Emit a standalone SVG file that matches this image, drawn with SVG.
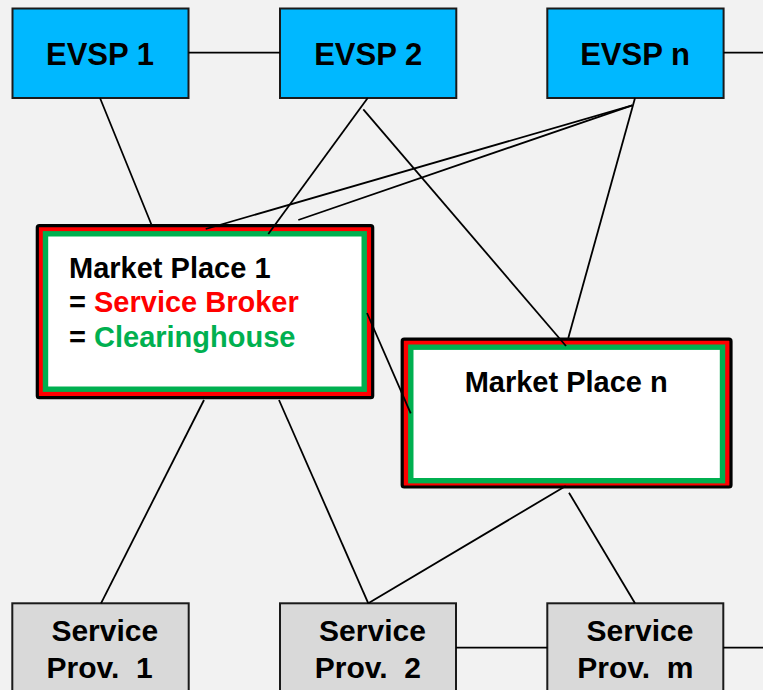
<svg xmlns="http://www.w3.org/2000/svg" width="763" height="690" viewBox="0 0 763 690">
<style>
.bg{fill:#f2f2f2}
.evsp{fill:#00b8ff;stroke:#1a1a1a;stroke-width:2}
.sp{fill:#d9d9d9;stroke:#1a1a1a;stroke-width:2}
.mpo{fill:#ff0000;stroke:#000;stroke-width:3.2}
.mpi{fill:#ffffff;stroke:#00b050;stroke-width:5.4}
text{font-family:"Liberation Sans",Arial,sans-serif;font-weight:bold;fill:#000}
.t31{font-size:31px;text-anchor:middle}
.t30{font-size:30px;text-anchor:middle}
.t29{font-size:29px}
.red{fill:#ff0000}
.grn{fill:#00b050}
.conn line{stroke:#000;stroke-width:1.8}
</style>
<rect class="bg" x="0" y="0" width="763" height="690"/>
<g id="evsp1"><rect class="evsp" x="12.5" y="8.5" width="176" height="89.5"/><text class="t31" x="100" y="65.3">EVSP 1</text></g>
<g id="evsp2"><rect class="evsp" x="280" y="8.5" width="176.3" height="89.5"/><text class="t31" x="368.2" y="65.3">EVSP 2</text></g>
<g id="evspn"><rect class="evsp" x="547.3" y="8.5" width="176.3" height="89.5"/><text class="t31" x="635" y="65.3">EVSP n</text></g>
<g id="mp1">
<rect class="mpo" x="37.3" y="225.6" width="335.4" height="172.1" rx="2"/>
<rect class="mpi" x="45.5" y="233.8" width="318.7" height="155.4"/>
<text class="t29" x="69" y="278">Market Place 1</text>
<text class="t29" x="69" y="311.7" xml:space="preserve">= <tspan class="red">Service Broker</tspan></text>
<text class="t29" x="69" y="346.7" xml:space="preserve">= <tspan class="grn">Clearinghouse</tspan></text>
</g>
<g id="mpn">
<rect class="mpo" x="402.2" y="339.2" width="328.8" height="147.8" rx="2"/>
<rect class="mpi" x="410.8" y="347.2" width="311.7" height="133.5"/>
<text class="t29" x="566.2" y="391.7" text-anchor="middle">Market Place n</text>
</g>
<g id="sp1"><rect class="sp" x="12.3" y="603.3" width="176.4" height="100"/><text class="t30" x="104.8" y="640.7">Service</text><text class="t30" x="99.7" y="678.3" xml:space="preserve">Prov.  1</text></g>
<g id="sp2"><rect class="sp" x="280" y="603.3" width="176" height="100"/><text class="t30" x="372.5" y="640.7">Service</text><text class="t30" x="367.8" y="678.3" xml:space="preserve">Prov.  2</text></g>
<g id="spm"><rect class="sp" x="547.3" y="603.3" width="176" height="100"/><text class="t30" x="640" y="640.7">Service</text><text class="t30" x="635.3" y="678.3" xml:space="preserve">Prov.  m</text></g>
<g class="conn" id="connectors">
<line x1="188.5" y1="52.7" x2="280" y2="52.7"/>
<line x1="723.6" y1="52.7" x2="763" y2="52.7"/>
<line x1="100" y1="98" x2="152" y2="226"/>
<line x1="367.7" y1="98" x2="268.3" y2="234"/>
<line x1="363.3" y1="109.3" x2="566" y2="346"/>
<line x1="635" y1="98" x2="568.3" y2="338"/>
<line x1="632.3" y1="105.3" x2="205.7" y2="229"/>
<line x1="632.3" y1="105.3" x2="298.3" y2="220"/>
<line x1="367" y1="313" x2="410.7" y2="413.3"/>
<line x1="204" y1="400" x2="101" y2="603.3"/>
<line x1="279" y1="400" x2="368.3" y2="603.3"/>
<line x1="565.7" y1="486" x2="368.3" y2="603.3"/>
<line x1="569" y1="492.7" x2="635" y2="603.3"/>
<line x1="456" y1="647.7" x2="547.3" y2="647.7"/>
<line x1="723.3" y1="647.7" x2="763" y2="647.7"/>
</g>
</svg>
